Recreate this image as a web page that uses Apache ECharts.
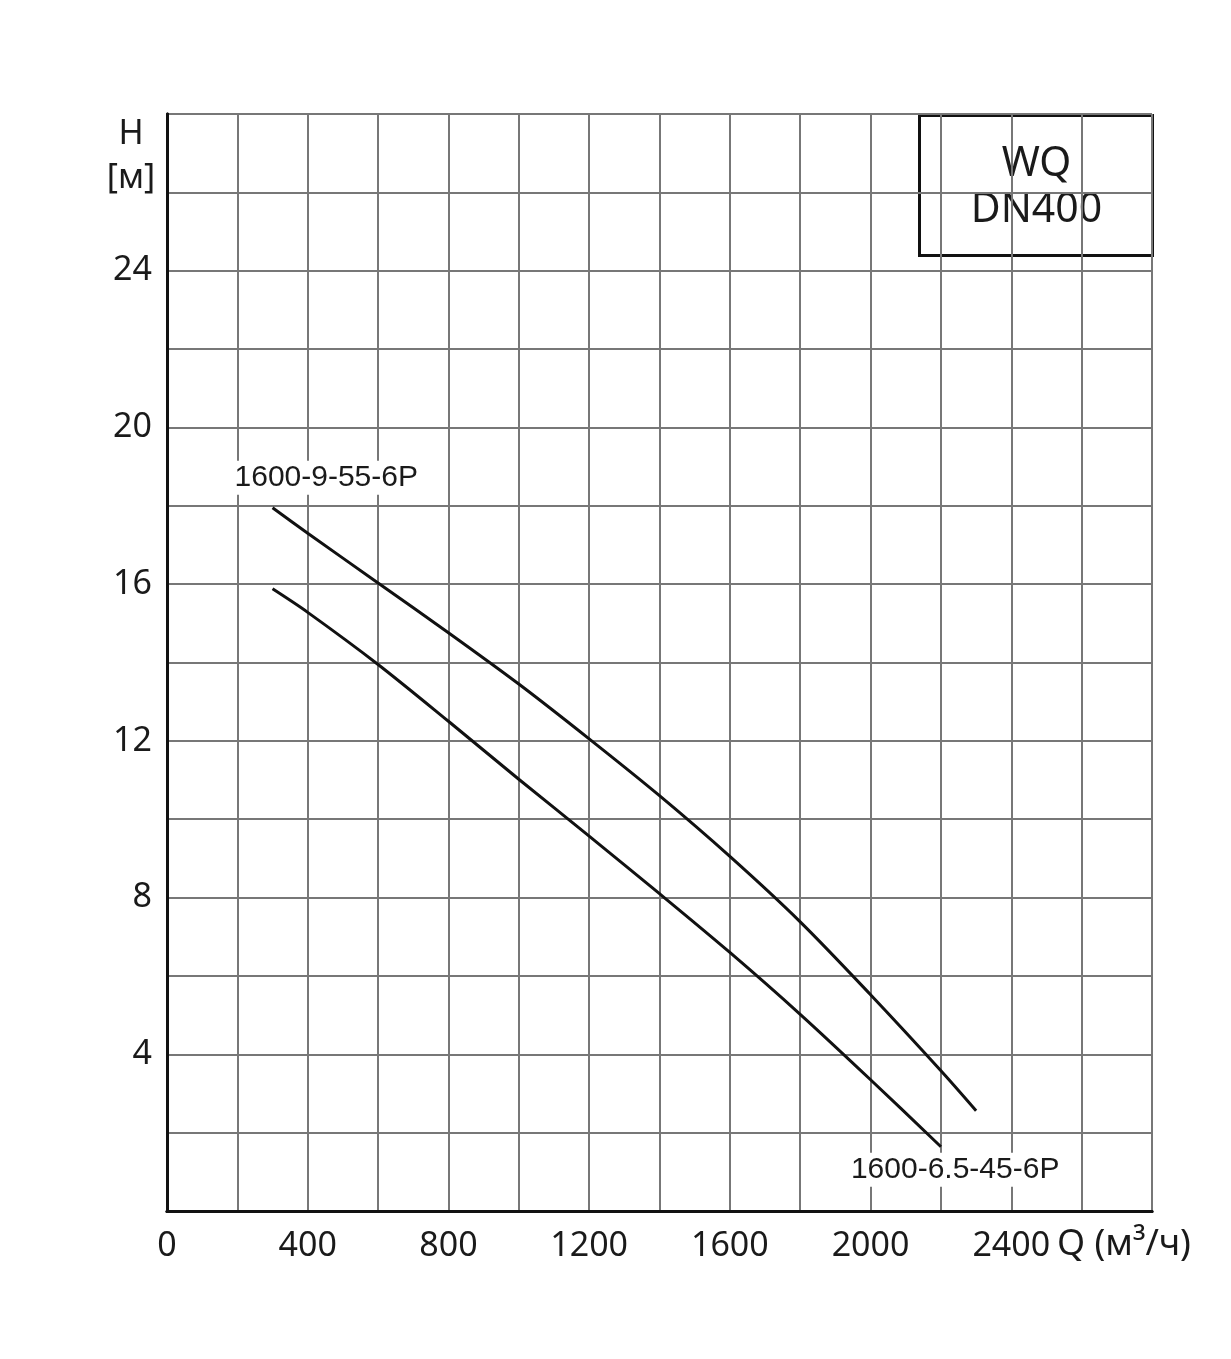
<!DOCTYPE html>
<html>
<head>
    <meta charset="utf-8">
    <title>WQ DN400</title>
    <script src="https://cdn.jsdelivr.net/npm/echarts@6/dist/echarts.min.js"></script>
    <style>
        html, body { margin: 0; padding: 0; background: #fff; }
        #main { width: 1231px; height: 1359px; }
    </style>
</head>
<body>
<div id="main"></div>
<script>
// данные кривых Q-H
const qUpper = [300, 400, 600, 800, 1000, 1200, 1400, 1600, 1800, 2000, 2200, 2300];
const hUpper = [17.95, 17.3, 16.03, 14.76, 13.45, 12.05, 10.6, 9.05, 7.38, 5.52, 3.58, 2.56];
const qLower = [300, 400, 600, 800, 1000, 1200, 1400, 1600, 1800, 2000, 2200];
const hLower = [15.88, 15.28, 13.95, 12.5, 11.02, 9.57, 8.1, 6.6, 5.02, 3.35, 1.64];
const nameUpper = '1600-9-55-6P';
const nameLower = '1600-6.5-45-6P';
const xLabels = [0, 400, 800, 1200, 1600, 2000, 2400];
const yLabels = [4, 8, 12, 16, 20, 24];

const axisFont = 'Noto Sans';
const ink = '#1a1a1a';

function pairs(xs, ys) {
    return xs.map((x, i) => [x, ys[i]]);
}

function curveLabel(text, pos) {
    return {
        show: true, formatter: text, position: pos,
        align: 'left', verticalAlign: 'middle',
        fontFamily: 'Liberation Sans', fontSize: 30, color: ink,
        backgroundColor: '#fff', padding: [2, 1]
    };
}

const upperData = pairs(qUpper, hUpper);
upperData[0] = { value: upperData[0], label: curveLabel(nameUpper, [-39, -30]) };
const lowerData = pairs(qLower, hLower);
const last = lowerData.length - 1;
lowerData[last] = { value: lowerData[last], label: curveLabel(nameLower, [-91, 23]) };

const chart = echarts.init(document.getElementById('main'), null, { renderer: 'canvas' });

// верхняя и правая рамка
const frameAxis = {
    axisLine: { show: true, lineStyle: { color: '#111', width: 3 } },
    axisTick: { show: false }, axisLabel: { show: false }, splitLine: { show: false }
};

const option = {
    animation: false,
    backgroundColor: '#fff',
    grid: { left: 167, top: 114, right: 79, bottom: 148 },
    xAxis: [{
        type: 'value', min: 0, max: 2800, interval: 200,
        axisLine: { show: true, onZero: false, lineStyle: { color: '#111', width: 3 } },
        axisTick: { show: false },
        splitLine: { show: true, lineStyle: { color: '#777', width: 2 } },
        axisLabel: {
            margin: 18, fontFamily: axisFont, fontSize: 34, color: ink,
            formatter: v => xLabels.includes(v) ? String(v) : ''
        }
    }, Object.assign({ type: 'value', min: 0, max: 2800, position: 'top' }, frameAxis)],
    yAxis: [{
        type: 'value', min: 0, max: 28, interval: 2,
        axisLine: { show: true, onZero: false, lineStyle: { color: '#111', width: 3 } },
        axisTick: { show: false },
        splitLine: { show: true, lineStyle: { color: '#777', width: 2 } },
        axisLabel: {
            margin: 15, fontFamily: axisFont, fontSize: 34, color: ink,
            formatter: v => yLabels.includes(v) ? String(v) : ''
        }
    }, Object.assign({ type: 'value', min: 0, max: 28, position: 'right' }, frameAxis)],
    series: [{
        name: nameUpper, type: 'line', smooth: 0.3,
        showSymbol: true, symbol: 'circle', symbolSize: 0,
        lineStyle: { color: '#111', width: 3 },
        itemStyle: { color: '#111' },
        data: upperData, z: 5
    }, {
        name: nameLower, type: 'line', smooth: 0.3,
        showSymbol: true, symbol: 'circle', symbolSize: 0,
        lineStyle: { color: '#111', width: 3 },
        itemStyle: { color: '#111' },
        data: lowerData, z: 5
    }],
    graphic: [{
        type: 'group', left: 918, top: 114, z: 20,
        children: [{
            type: 'rect', shape: { x: 0, y: 0, width: 233, height: 140 },
            style: { fill: '#fff', stroke: '#111', lineWidth: 3 }
        }, {
            type: 'text', x: 117, y: 49,
            style: { text: 'WQ', font: '41px "Noto Sans"', fill: ink, align: 'center', verticalAlign: 'middle' }
        }, {
            type: 'text', x: 117, y: 95,
            style: { text: 'DN400', font: '41px "Noto Sans"', fill: ink, align: 'center', verticalAlign: 'middle' }
        }]
    }, {
        type: 'text', x: 131, y: 134, z: 20,
        style: { text: 'H', font: '34px "Noto Sans"', fill: ink, align: 'center', verticalAlign: 'middle' }
    }, {
        type: 'text', x: 131, y: 178, z: 20,
        style: { text: '[м]', font: '34px "Noto Sans"', fill: ink, align: 'center', verticalAlign: 'middle' }
    }, {
        type: 'text', x: 1057, y: 1245, z: 20,
        style: { text: 'Q (м³/ч)', font: '36px "Noto Sans"', fill: ink, align: 'left', verticalAlign: 'middle' }
    }]
};

chart.setOption(option);
</script>
</body>
</html>
